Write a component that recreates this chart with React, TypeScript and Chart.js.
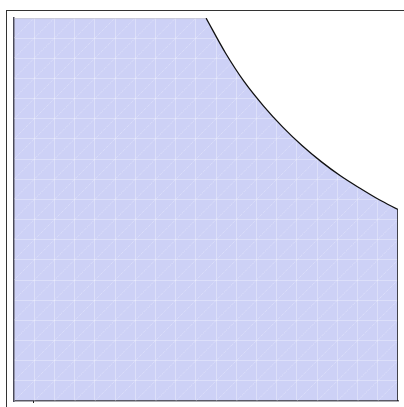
import React, { useEffect, useRef } from "react";
import { Chart, registerables } from "chart.js";

Chart.register(...registerables);

// flat top part of the region
const flatX = [0, 0.5];
const flatY = [1, 1];
// curved part of the boundary
const curveX = [0.5, 0.55, 0.6, 0.65, 0.7, 0.75, 0.8, 0.85, 0.9, 0.95, 1];
const curveY = [1, 0.91, 0.833, 0.77, 0.715, 0.667, 0.625, 0.588, 0.556, 0.526, 0.5];
// right edge of the region
const edgeX = [1, 1];
const edgeY = [0.5, 0];
// number of mesh divisions along each axis
const meshDivisions = 19;

const FILL = "rgb(205,209,246)";

function pts(xs: number[], ys: number[]) {
  return xs.map((x, i) => ({ x, y: ys[i] }));
}

export default function App() {
  const ref = useRef<HTMLCanvasElement | null>(null);
  useEffect(() => {
    const canvas = ref.current!;
    const meshPlugin = {
      id: "mesh",
      beforeDatasetsDraw(chart: any) {
        const { ctx, chartArea: a, scales } = chart;
        const xs = scales.x;
        const ys = scales.y;
        ctx.save();
        ctx.beginPath();
        ctx.rect(a.left, a.top, a.right - a.left, a.bottom - a.top);
        ctx.clip();
        ctx.strokeStyle = "rgba(255,255,255,0.38)";
        ctx.lineWidth = 1;
        ctx.setLineDash([1, 1]);
        const n = meshDivisions;
        for (let k = -n; k <= n; k++) {
          const x0 = xs.getPixelForValue(k / n);
          const y0 = ys.getPixelForValue(0);
          const x1 = xs.getPixelForValue((k + n) / n);
          const y1 = ys.getPixelForValue(1);
          ctx.beginPath();
          ctx.moveTo(x0, y0);
          ctx.lineTo(x1, y1);
          ctx.stroke();
        }
        ctx.restore();
      },
      afterDraw(chart: any) {
        const { ctx, chartArea: a, scales } = chart;
        ctx.save();
        ctx.strokeStyle = "#333";
        ctx.lineWidth = 1;
        ctx.strokeRect(6.5, 10.5, 600, 600);
        ctx.fillStyle = "#222";
        const tx = Math.round(scales.x.getPixelForValue(1 / meshDivisions));
        ctx.fillRect(tx - 1, a.bottom, 1, 2);
        ctx.restore();
      },
    };
    const chart = new Chart(canvas, {
      type: "line",
      data: {
        datasets: [
          {
            data: pts(flatX, flatY),
            borderColor: "#b8b8c0",
            borderWidth: 1,
            backgroundColor: FILL,
            fill: "origin",
            pointRadius: 0,
            tension: 0,
          },
          {
            data: pts(curveX, curveY),
            borderColor: "#111",
            borderWidth: 1.3,
            backgroundColor: FILL,
            fill: "origin",
            pointRadius: 0,
            cubicInterpolationMode: "monotone",
          },
          {
            data: pts(edgeX, edgeY),
            borderColor: "#111",
            borderWidth: 1.5,
            fill: false,
            pointRadius: 0,
          },
        ],
      },
      options: {
        animation: false,
        responsive: false,
        layout: { padding: { left: 14, top: 18, right: 6, bottom: 6 } },
        plugins: {
          legend: { display: false },
          tooltip: { enabled: false },
          filler: { drawTime: "beforeDraw" } as any,
        },
        scales: {
          x: {
            type: "linear",
            min: 0,
            max: 1,
            afterBuildTicks: (s: any) => {
              s.ticks = Array.from({ length: meshDivisions + 1 }, (_, i) => ({ value: i / meshDivisions }));
            },
            ticks: { display: false },
            grid: { color: "rgba(255,255,255,0.3)", drawTicks: false, lineWidth: 1 },
            border: { color: "#5a5a66", width: 1.5 },
          },
          y: {
            type: "linear",
            min: 0,
            max: 1,
            afterBuildTicks: (s: any) => {
              s.ticks = Array.from({ length: meshDivisions + 1 }, (_, i) => ({ value: i / meshDivisions }));
            },
            ticks: { display: false },
            grid: { color: "rgba(255,255,255,0.3)", drawTicks: false, lineWidth: 1 },
            border: { color: "#4a4a5a", width: 1.5 },
          },
        },
      },
      plugins: [meshPlugin],
    });
    return () => chart.destroy();
  }, []);
  return (
    <div style={{ position: "fixed", left: 0, top: 0, width: 404, height: 407, background: "#fff" }}>
      <canvas ref={ref} width={404} height={407} style={{ display: "block" }} />
    </div>
  );
}
